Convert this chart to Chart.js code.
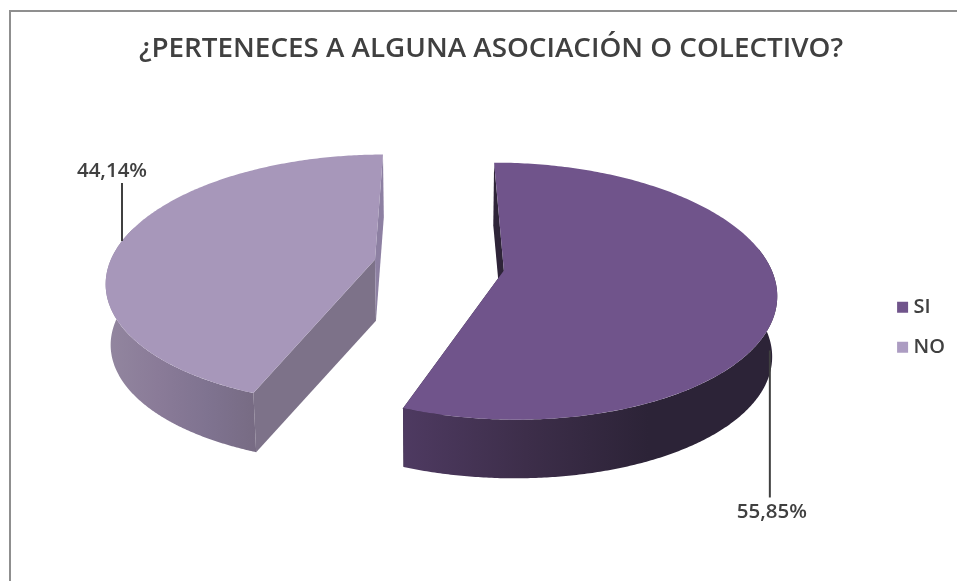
<!DOCTYPE html>
<html>
<head>
<meta charset="utf-8">
<script src="https://cdn.jsdelivr.net/npm/chart.js@4"></script>
<style>
    html, body { margin: 0; padding: 0; background: #fff; overflow: hidden; }
    #frame { position: absolute; left: 9px; top: 10px; right: 0; bottom: 0; border-left: 2px solid #8f8f8f; border-top: 2px solid #8f8f8f; }
    #chart { position: absolute; left: 0; top: 0; }
</style>
</head>
<body>
<div id="frame"></div>
<canvas id="chart" width="957" height="581"></canvas>
<script>
const chartTitle = '¿PERTENECES A ALGUNA ASOCIACIÓN O COLECTIVO?';
const categories = ['SI', 'NO'];
const percentages = [55.85, 44.14];
const percentLabels = ['55,85%', '44,14%'];

const topColors = ['#70548b', '#a797ba'];
const legendColors = ['#70548b', '#ac9cc2'];
const rimStops = [
    ['#4e3a61', '#3d2e4a', '#2c2337', '#2c2337'],
    ['#92869f', '#8a7b98', '#7f7390', '#776b83']
];
const rimRange = [[404, 770], [108, 257]];
const wallColors = [
    ['#2e2438', '#2e2438'], // start edge, end edge
    ['#7d7289', '#8d80a2']
];
const TEXT_COLOR = '#404040';

// camera used to lay the flat pie down, fitted to the picture
const view = { x0: 439, y0: 265, tilt: 0.464, persp: 0.0006, depth: 61, shrink: 0.985 };
// rim angle (deg from top), height on the wall, line length and text offset of the callouts
const callouts = [
    { angle: 112, wall: 0.5, length: 147, textDy: 15, textDx: 2 },
    { angle: 279, wall: 0, length: -58, textDy: -12, textDx: -10 }
];

function project(x, y, wall) {
    const f = 1 / (1 + view.persp * y);
    const m = 1 - (1 - view.shrink) * wall;
    return {
        x: view.x0 + x * f * m,
        y: view.y0 - y * view.tilt * f * m + view.depth * wall
    };
}

function rimPoint(arc, theta, wall) {
    const mid = (arc.startAngle + arc.endAngle) / 2 + Math.PI / 2;
    const e = arc.options.offset;
    return project(e * Math.sin(mid) + arc.outerRadius * Math.sin(theta),
        e * Math.cos(mid) + arc.outerRadius * Math.cos(theta), wall);
}

function apexPoint(arc, wall) {
    const mid = (arc.startAngle + arc.endAngle) / 2 + Math.PI / 2;
    const e = arc.options.offset;
    return project(e * Math.sin(mid), e * Math.cos(mid), wall);
}

function rimPoints(arc, a0, a1, wall) {
    const pts = [];
    const steps = 240;
    for (let i = 0; i <= steps; i++) {
        pts.push(rimPoint(arc, a0 + (a1 - a0) * i / steps, wall));
    }
    return pts;
}

function fillPoly(ctx, pts, fill) {
    ctx.beginPath();
    pts.forEach((p, i) => i ? ctx.lineTo(p.x, p.y) : ctx.moveTo(p.x, p.y));
    ctx.closePath();
    ctx.fillStyle = fill;
    ctx.fill();
}

const pie3d = {
    id: 'pie3d',
    beforeDatasetsDraw(chart) {
        const ctx = chart.ctx;
        const arcs = chart.getDatasetMeta(0).data;
        arcs.forEach((arc, i) => {
            const a0 = arc.startAngle + Math.PI / 2;
            const a1 = arc.endAngle + Math.PI / 2;
            const apex0 = apexPoint(arc, 0);
            const apex1 = apexPoint(arc, 1);

            // cut faces of the wedge
            fillPoly(ctx, [apex0, rimPoint(arc, a0, 0), rimPoint(arc, a0, 1), apex1], wallColors[i][0]);
            fillPoly(ctx, [apex0, rimPoint(arc, a1, 0), rimPoint(arc, a1, 1), apex1], wallColors[i][1]);

            // curved side, only the half that faces the viewer
            const front0 = Math.max(a0, 80 * Math.PI / 180);
            const front1 = Math.min(a1, 285 * Math.PI / 180);
            const grad = ctx.createLinearGradient(rimRange[i][0], 0, rimRange[i][1], 0);
            rimStops[i].forEach((c, k) => grad.addColorStop(k / (rimStops[i].length - 1), c));
            fillPoly(ctx, rimPoints(arc, front0, front1, 0).concat(rimPoints(arc, front1, front0, 1)), grad);

            // top face
            fillPoly(ctx, [apex0].concat(rimPoints(arc, a0, a1, 0)), topColors[i]);
        });

        // percent callouts
        ctx.font = '600 20.5px "Open Sans"';
        ctx.textAlign = 'center';
        ctx.textBaseline = 'middle';
        arcs.forEach((arc, i) => {
            const c = callouts[i];
            const p = rimPoint(arc, c.angle * Math.PI / 180, c.wall);
            ctx.strokeStyle = TEXT_COLOR;
            ctx.lineWidth = 2;
            ctx.beginPath();
            ctx.moveTo(p.x, p.y);
            ctx.lineTo(p.x, p.y + c.length);
            ctx.stroke();
            ctx.fillStyle = TEXT_COLOR;
            ctx.fillText(percentLabels[i], p.x + c.textDx, p.y + c.length + c.textDy);
        });
        return false;
    }
};

new Chart(document.getElementById('chart').getContext('2d'), {
    type: 'pie',
    data: {
        labels: categories,
        datasets: [{
            data: percentages,
            backgroundColor: legendColors,
            borderWidth: 0,
            offset: 65.5
        }]
    },
    plugins: [pie3d],
    options: {
        responsive: false,
        animation: false,
        radius: 266,
        rotation: -0.2,
        layout: { padding: { left: 27, right: 2 } },
        plugins: {
            title: {
                display: true,
                text: chartTitle,
                color: TEXT_COLOR,
                font: { family: '"Open Sans"', size: 27.8, weight: '600' },
                padding: { top: 32, bottom: 8 }
            },
            legend: {
                position: 'right',
                fullSize: false,
                labels: {
                    usePointStyle: true,
                    pointStyle: 'rect',
                    boxWidth: 2,
                    boxHeight: 11,
                    padding: 20,
                    color: TEXT_COLOR,
                    font: { family: '"Open Sans"', size: 20, weight: '600' }
                }
            },
            tooltip: { enabled: false }
        }
    }
});
</script>
</body>
</html>
